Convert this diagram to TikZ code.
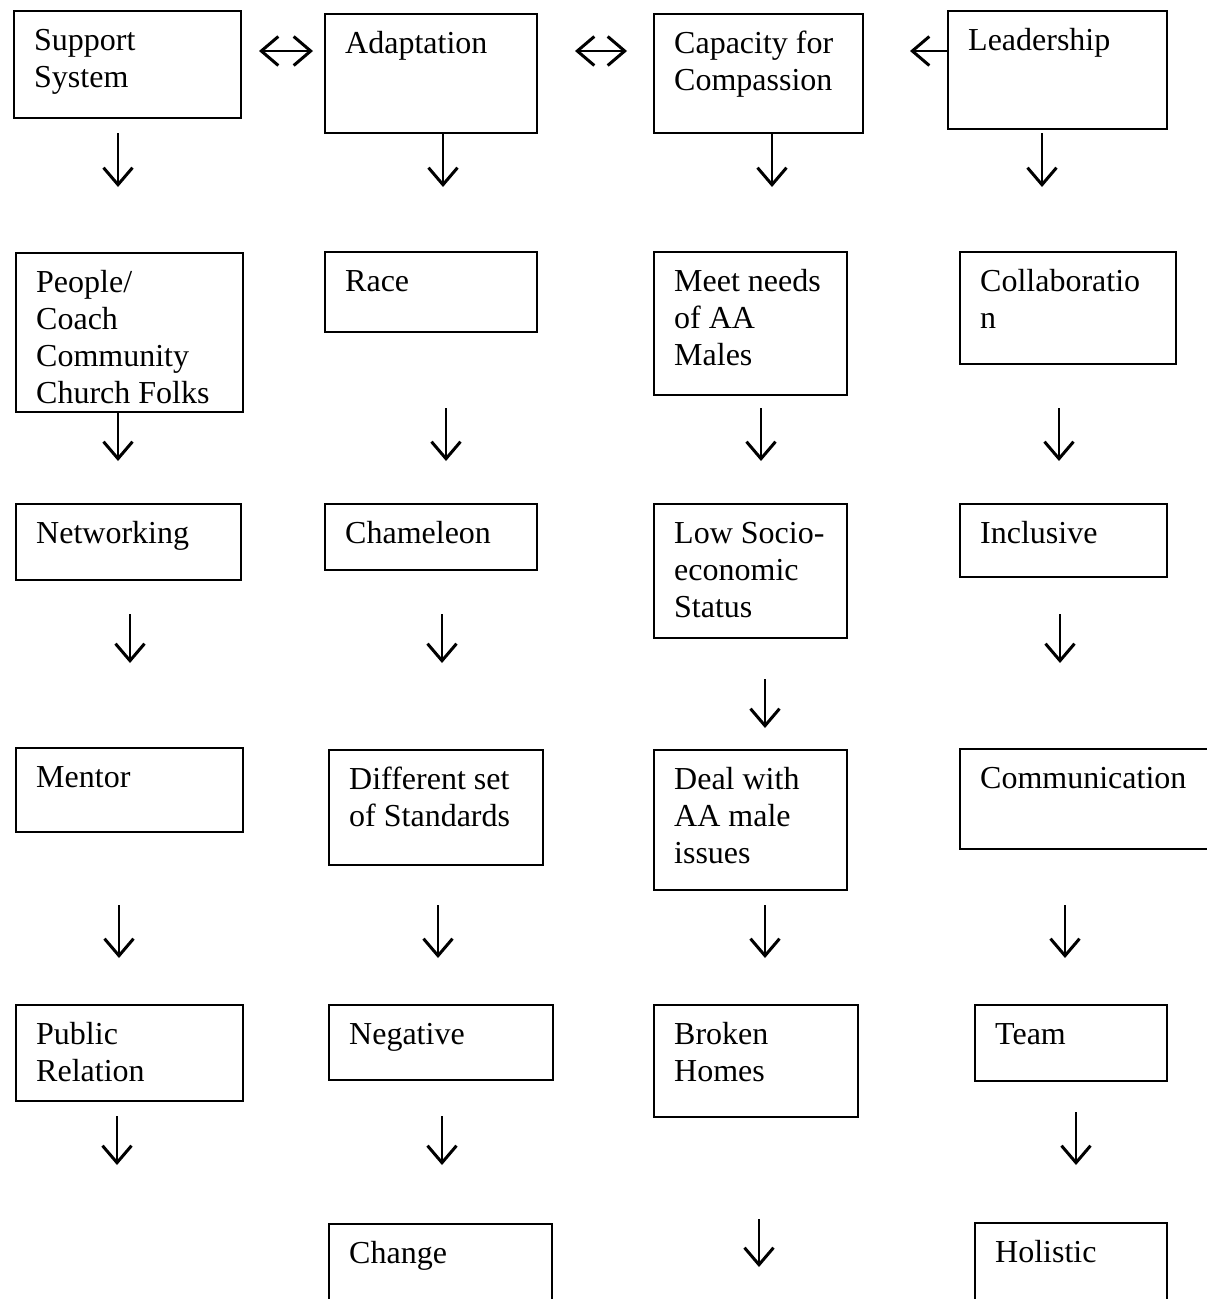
\documentclass[tikz,border=0pt]{standalone}
\usepackage{fontspec}
\setmainfont{Liberation Serif}
\usetikzlibrary{arrows.meta}

\newcommand\tnr{\fontsize{32}{37}\selectfont}
% box with its text set at the top left
\newcommand\bx[6]{%
  \node[box, minimum width=#4pt, minimum height=#5pt] (#1) at (#2,#3) {};
  \node[lbl] (#1-t) at ([xshift=21pt,yshift=-40pt]#1.north west)
    {\begin{tabular}[t]{@{}l@{}}#6\end{tabular}};}

\begin{document}
\begin{tikzpicture}[x=1pt, y=-1pt,
   box/.style = {draw, line width=1.5pt, anchor=north west, inner sep=0pt},
   lbl/.style = {anchor=base west, inner sep=0pt, font=\tnr},
   cmtip/.tip = {Straight Barb[length=17pt, width=29pt, line width=3pt]},
   dn/.style  = {-cmtip, line width=1.8pt},
   lr/.style  = {cmtip-cmtip, line width=1.8pt}]
   \useasboundingbox (0,0) rectangle (1207,1299);
   % Support System
   \bx{sup}{13}{10}{227}{107}{Support\\System}
   \bx{ppl}{15}{252}{227}{159}{People/\\Coach\\Community\\Church Folks}
   \bx{net}{15}{503}{225}{76}{Networking}
   \bx{men}{15}{747}{227}{84}{Mentor}
   \bx{pub}{15}{1004}{227}{96}{Public\\Relation}
   % Adaptation
   \bx{ada}{324}{13}{212}{119}{Adaptation}
   \bx{race}{324}{251}{212}{80}{Race}
   \bx{cham}{324}{503}{212}{66}{Chameleon}
   \bx{diff}{328}{749}{214}{115}{Different set\\of Standards}
   \bx{neg}{328}{1004}{224}{75}{Negative}
   \bx{chg}{328}{1223}{223}{100}{Change}
   % Capacity for Compassion
   \bx{cap}{653}{13}{209}{119}{Capacity for\\Compassion}
   \bx{meet}{653}{251}{193}{143}{Meet needs\\of AA\\Males}
   \bx{low}{653}{503}{193}{134}{Low Socio-\\economic\\Status}
   \bx{deal}{653}{749}{193}{140}{Deal with\\AA male\\issues}
   \bx{brk}{653}{1004}{204}{112}{Broken\\Homes}
   % Leadership
   \bx{lead}{947}{10}{219}{118}{Leadership}
   \bx{coll}{959}{251}{216}{112}{Collaboratio\\n}
   \bx{incl}{959}{503}{207}{73}{Inclusive}
   \bx{comm}{959}{748}{260}{100}{Communication}
   \bx{team}{974}{1004}{192}{76}{Team}
   \bx{hol}{974}{1222}{192}{100}{Holistic}

   % arrows across the top
   \coordinate (h1a) at (259,51);
   \coordinate (h1b) at (313,51);
   \coordinate (h2a) at (575,51);
   \coordinate (h2b) at (627,51);
   \coordinate (h3) at (910,51);
   \draw[lr] (h1a) -- (h1b);
   \draw[lr] (h2a) -- (h2b);
   \draw[dn] ([yshift=-41pt]lead.north west) -- (h3);

   % down arrows
   \foreach \i/\x/\ya/\yb in {1/118/133/187, 2/443/133/187, 3/772/133/187,
       4/1042/133/187, 5/118/411/461, 6/446/408/461, 7/761/408/461,
       8/1059/408/461, 9/130/614/663, 10/442/614/663, 11/765/679/728,
       12/1060/614/663, 13/119/905/958, 14/438/905/958, 15/765/905/958,
       16/1065/905/958, 17/117/1116/1165, 18/442/1116/1165,
       19/1076/1112/1165, 20/759/1219/1267} {
     \coordinate (s\i) at (\x,\ya);
     \coordinate (e\i) at (\x,\yb);
     \draw[dn] (s\i) -- (e\i);
   }
\end{tikzpicture}
\end{document}
